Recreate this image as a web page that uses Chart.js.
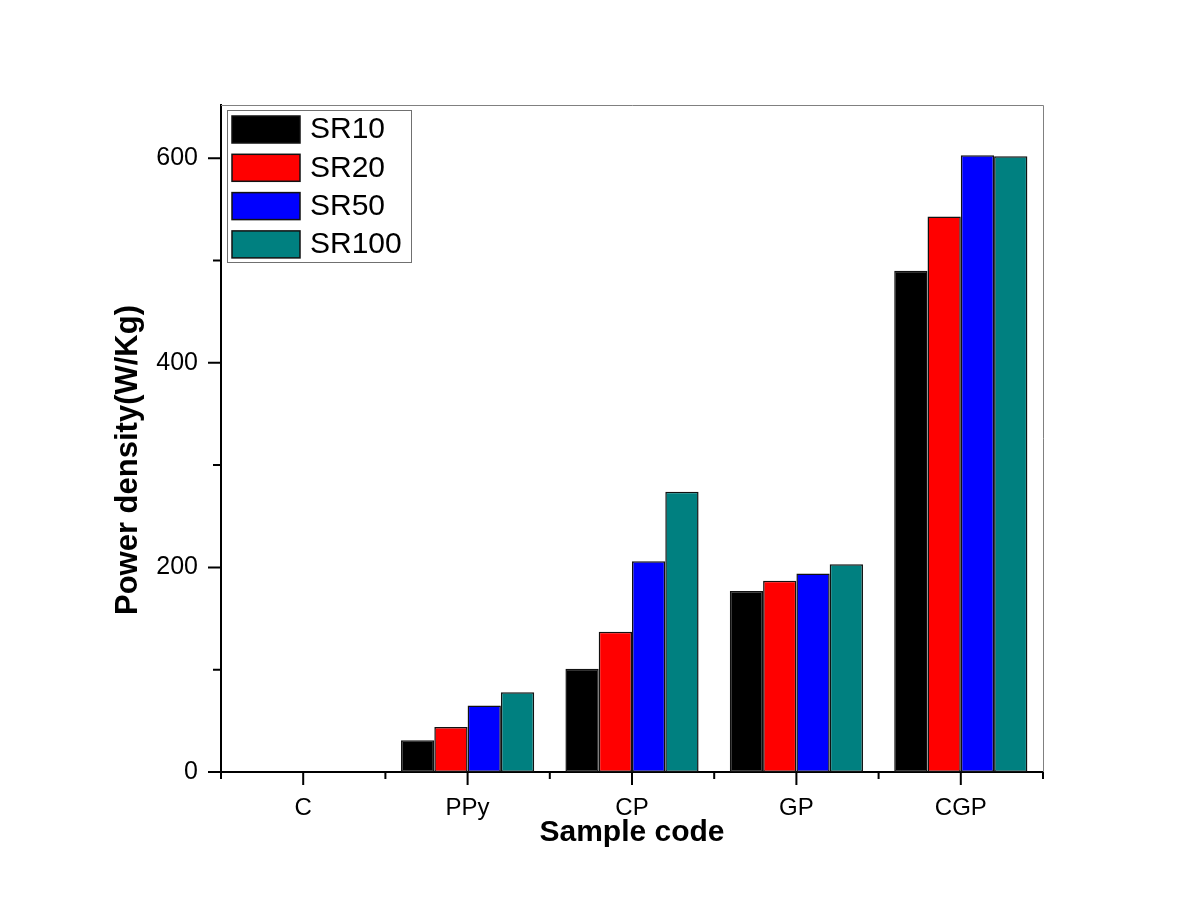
<!DOCTYPE html>
<html lang="en">
<head>
  <meta charset="UTF-8" />
  <title>Power density by sample code</title>
  <script src="https://cdn.jsdelivr.net/npm/chart.js"></script>
  <style>
    html, body { margin: 0; padding: 0; background: #fff; }
    #wrap { width: 1198px; height: 923px; }
  </style>
</head>
<body>
  <div id="wrap"><canvas id="powerChart" width="1198" height="923"></canvas></div>

  <script>
    const categories = ['C', 'PPy', 'CP', 'GP', 'CGP'];
    const seriesNames = ['SR10', 'SR20', 'SR50', 'SR100'];
    const sr10 = [0, 31, 101, 177, 490];
    const sr20 = [0, 44, 137, 187, 543];
    const sr50 = [0, 65, 206, 194, 603];
    const sr100 = [0, 78, 274, 203, 602];
    const colors = ['#000000', '#ff0000', '#0000ff', '#008080'];
    const yTickLabels = [0, 200, 400, 600];

    const FONT = "'Liberation Sans', Arial, sans-serif";

    // axis ticks (major + minor), top/right frame and boxed legend
    const decorations = {
      id: 'decorations',
      afterDraw(chart) {
        const { ctx, chartArea: a, scales: { x, y } } = chart;
        ctx.save();

        ctx.strokeStyle = '#000';
        ctx.lineWidth = 2;
        ctx.beginPath();
        y.ticks.forEach(t => {
          if (t.value % 100 !== 0) return;
          const py = y.getPixelForValue(t.value);
          const len = yTickLabels.includes(t.value) ? 13 : 8;
          ctx.moveTo(a.left - len, py);
          ctx.lineTo(a.left, py);
        });
        categories.forEach((c, i) => {
          const px = x.getPixelForValue(i);
          ctx.moveTo(px, a.bottom);
          ctx.lineTo(px, a.bottom + 13);
          const bx = x.getPixelForValue(i - 0.5);
          ctx.moveTo(bx, a.bottom);
          ctx.lineTo(bx, a.bottom + 7);
        });
        const ex = x.getPixelForValue(categories.length - 0.5);
        ctx.moveTo(ex, a.bottom);
        ctx.lineTo(ex, a.bottom + 7);
        ctx.stroke();

        // thin frame on top and right
        ctx.strokeStyle = '#808080';
        ctx.lineWidth = 1;
        ctx.beginPath();
        ctx.moveTo(a.left, a.top + 0.5);
        ctx.lineTo(a.right + 0.5, a.top + 0.5);
        ctx.lineTo(a.right + 0.5, a.bottom);
        ctx.stroke();

        // legend
        const lx = a.left + 6, ly = a.top + 5;
        ctx.strokeStyle = '#707070';
        ctx.lineWidth = 1;
        ctx.strokeRect(lx + 0.5, ly + 0.5, 184, 152);
        ctx.font = '30px ' + FONT;
        ctx.textBaseline = 'middle';
        ctx.textAlign = 'left';
        chart.data.datasets.forEach((ds, i) => {
          const sy = ly + 6 + i * 38.3;
          ctx.fillStyle = ds.backgroundColor;
          ctx.fillRect(lx + 5, sy, 68, 27);
          ctx.strokeStyle = '#111';
          ctx.lineWidth = 1.5;
          ctx.strokeRect(lx + 5, sy, 68, 27);
          ctx.fillStyle = '#000';
          ctx.fillText(ds.label, lx + 83, sy + 14);
        });
        ctx.restore();
      }
    };

    const seriesData = [sr10, sr20, sr50, sr100];

    new Chart(document.getElementById('powerChart'), {
      type: 'bar',
      data: {
        labels: categories,
        datasets: seriesNames.map((name, i) => ({
          label: name,
          data: seriesData[i],
          backgroundColor: colors[i],
          borderColor: '#111',
          borderWidth: 1.5,
          borderSkipped: false,
          categoryPercentage: 0.81,
          barPercentage: 1.0
        }))
      },
      options: {
        responsive: false,
        animation: false,
        layout: { padding: { left: 0, top: 105, right: 155, bottom: 0 } },
        plugins: {
          legend: { display: false },
          tooltip: { enabled: false }
        },
        scales: {
          x: {
            afterFit: s => { s.height = 151; },
            grid: { display: false, drawTicks: false },
            border: { color: '#000', width: 2 },
            ticks: { color: '#000', padding: 22, font: { family: FONT, size: 24 } },
            title: {
              display: true,
              text: 'Sample code',
              color: '#000',
              font: { family: FONT, size: 30, weight: 'bold' },
              padding: { top: 0, bottom: 72 }
            }
          },
          y: {
            min: 0,
            max: 652,
            afterFit: s => { s.width = 221; },
            grid: { display: false, drawTicks: false },
            border: { color: '#000', width: 2 },
            ticks: {
              stepSize: 100,
              color: '#000',
              padding: 23,
              font: { family: FONT, size: 25 },
              callback: v => yTickLabels.includes(v) ? v : ''
            },
            title: {
              display: true,
              // trailing spaces nudge the title below the axis centre, as in the original
              text: 'Power density(W/Kg)\u00a0\u00a0\u00a0\u00a0\u00a0',
              color: '#000',
              font: { family: FONT, size: 31, weight: 'bold' },
              padding: { top: 110, bottom: 0 }
            }
          }
        }
      },
      plugins: [decorations]
    });
  </script>
</body>
</html>
